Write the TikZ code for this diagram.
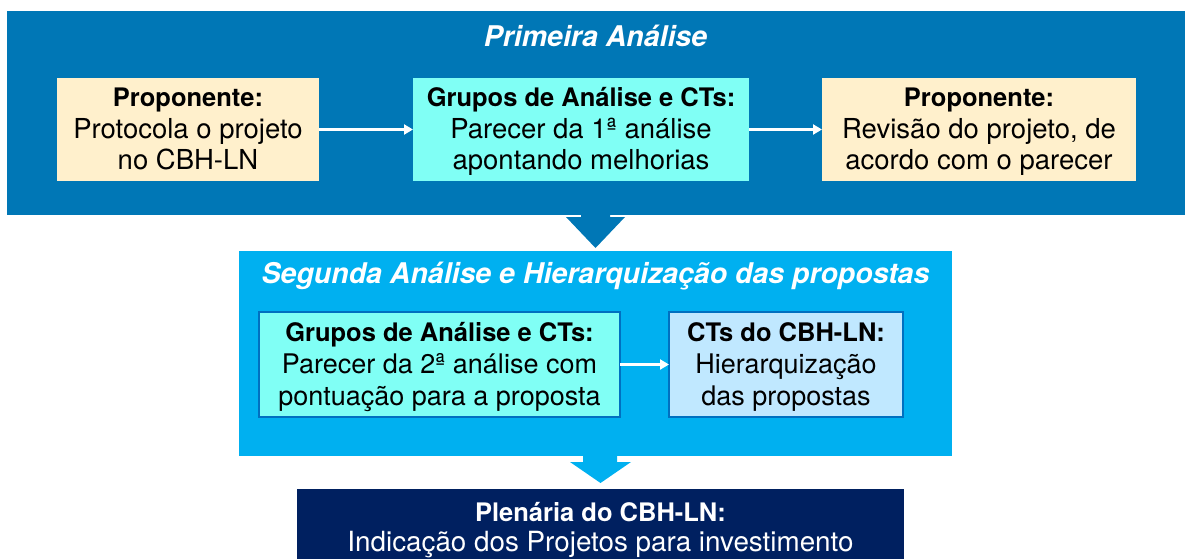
\documentclass[tikz,border=0pt]{standalone}
\usepackage{fontspec}
\setmainfont{TeX Gyre Heros}
\usetikzlibrary{arrows.meta,calc}
\definecolor{panelA}{RGB}{0,119,182}
\definecolor{panelB}{RGB}{0,176,240}
\definecolor{cream}{RGB}{255,240,204}
\definecolor{aqua}{RGB}{128,255,245}
\definecolor{pale}{RGB}{192,232,255}
\definecolor{edge}{RGB}{0,112,192}
\definecolor{navy}{RGB}{0,32,96}
\begin{document}
\begin{tikzpicture}[x=1pt,y=-1pt,
  panel/.style={inner sep=0pt,outer sep=0pt},
  box/.style={inner sep=0pt,outer sep=0pt,align=center,text=black,
    font=\fontsize{27.5}{31.3}\selectfont},
  boxB/.style={box,draw=edge,line width=1.5pt,font=\fontsize{27}{31.7}\selectfont},
  ttl/.style={inner sep=0pt,text=white,font=\fontsize{28.5}{34}\selectfont\bfseries\itshape},
  wline/.style={draw=white,line width=2.5pt,-{Triangle[length=9pt,width=10pt]}}
]
\useasboundingbox (0,0) rectangle (1185,559);
\newcommand\hd[1]{{\fontsize{25.5}{31}\selectfont\bfseries #1}}
\newcommand\up[1]{\rule{0pt}{#1pt}}
\newcommand\dn{\rule[-8pt]{0pt}{8pt}}

% panels
\node[panel,fill=panelA,minimum width=1178pt,minimum height=204pt] (p1) at (596,113) {};
\node[panel,fill=panelB,minimum width=713pt,minimum height=205pt] (p2) at (595.5,353.5) {};
\node[panel,fill=navy,minimum width=607pt,minimum height=82pt,align=center,text=white,
  font=\fontsize{27.8}{30}\selectfont] (plen) at (600.5,530)
  {\up{21.4}\hd{Plenária do CBH-LN:}\\Indicação dos Projetos para investimento\dn};

% titles
\node[ttl] (t1) at (595.5,36) {Primeira Análise};
\node[ttl] (t2) at (595.5,276) {Segunda Análise e Hierarquização das propostas};

% first stage boxes
\node[box,fill=cream,minimum width=262pt,minimum height=103pt] (b1) at (188,129.5)
  {\up{25}\hd{Proponente:}\\Protocola o projeto\\no CBH-LN\dn};
\node[box,fill=aqua,minimum width=336pt,minimum height=103pt] (b2) at (581,129.5)
  {\up{25}\hd{Grupos de Análise e CTs:}\\Parecer da 1ª análise\\apontando melhorias\dn};
\node[box,fill=cream,minimum width=314pt,minimum height=103pt] (b3) at (979,129.5)
  {\up{25}\hd{Proponente:}\\Revisão do projeto, de\\acordo com o parecer\dn};

% second stage boxes
\node[boxB,fill=aqua,minimum width=361pt,minimum height=105pt] (b4) at (439.5,364.5)
  {\up{25.8}\hd{Grupos de Análise e CTs:}\\Parecer da 2ª análise com\\pontuação para a proposta\dn};
\node[boxB,fill=pale,minimum width=234pt,minimum height=105pt] (b5) at (786,364.5)
  {\up{25.8}\hd{CTs do CBH-LN:}\\Hierarquização\\das propostas\dn};

% connectors
\draw[wline] (b1.east) -- (b2.west);
\draw[wline] (b2.east) -- (b3.west);
\draw[wline] (b4.east) -- (b5.west);

% block arrows between panels
\fill[panelA] ($(p1.south)+(-15,0)$) -- ++(29,0) -- ++(0,2) -- ++(15,0)
  -- ($(p2.north)+(0,-3)$) -- ($(p1.south)+(-30,2)$) -- ($(p1.south)+(-15,2)$) -- cycle;
\fill[panelB] ($(p2.south)+(-12.5,0)$) -- ++(34,0) -- ++(0,6) -- ++(14,0)
  -- ($(plen.north)+(0,-6)$) -- ($(p2.south)+(-25.5,6)$) -- ($(p2.south)+(-12.5,6)$) -- cycle;
\end{tikzpicture}
\end{document}
